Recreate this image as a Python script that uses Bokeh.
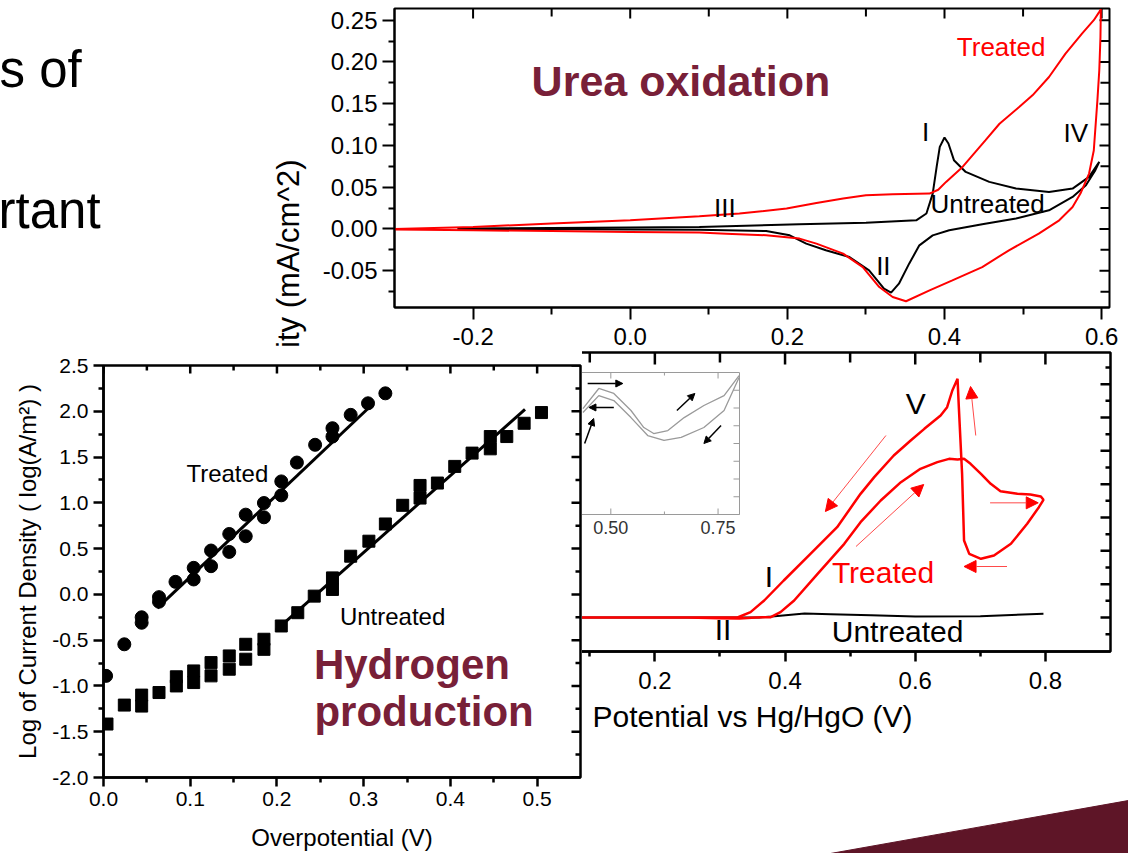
import math
from bokeh.plotting import figure
from bokeh.models import (LinearAxis, FixedTicker, Range1d, Arrow, NormalHead,
                          ColumnDataSource, PrintfTickFormatter)
from bokeh.embed import file_html
from bokeh.resources import INLINE
from bokeh.core.properties import value

FONT = "Liberation Sans"
MAROON = "#782038"
RED = "#ff0000"

# ---------------- data: top chart (urea oxidation CV) ----------------
cv_treated_x = [-0.300, -0.200, -0.100, 0.000, 0.088, 0.139, 0.199, 0.237, 0.271, 0.300,
                0.334, 0.381, 0.392, 0.402, 0.423, 0.452, 0.470, 0.495, 0.512, 0.533,
                0.554, 0.575, 0.590, 0.597, 0.599,
                0.5985, 0.597, 0.5946, 0.590, 0.584, 0.573, 0.563, 0.546, 0.520, 0.482,
                0.448, 0.410, 0.381, 0.351, 0.334, 0.317, 0.296, 0.271, 0.237, 0.2155,
                0.173, 0.122, 0.088, 0.000, -0.100, -0.200, -0.300]
cv_treated_y = [0.000, 0.0025, 0.0065, 0.0104, 0.0153, 0.0185, 0.0245, 0.0312, 0.0364, 0.0404,
                0.0416, 0.0424, 0.047, 0.0564, 0.0743, 0.106, 0.126, 0.146, 0.160, 0.182,
                0.210, 0.234, 0.250, 0.260, 0.263,
                0.230, 0.190, 0.154, 0.094, 0.0664, 0.0424, 0.0264, 0.0104, -0.0056, -0.0255,
                -0.0456, -0.0615, -0.0735, -0.0865, -0.0815, -0.0695, -0.0456, -0.0295, -0.0175, -0.0115,
                -0.0075, -0.0056, -0.0043, -0.0036, -0.0025, -0.0015, -0.0007]
cv_untreated_x = [-0.220, -0.100, 0.000, 0.088, 0.215, 0.300, 0.364, 0.377, 0.385, 0.390,
                  0.394, 0.400, 0.405, 0.412, 0.427, 0.457, 0.491, 0.533, 0.563, 0.584, 0.597,
                  0.592, 0.580, 0.563, 0.533, 0.491, 0.448, 0.406, 0.385, 0.368, 0.355,
                  0.342, 0.332, 0.323, 0.304, 0.279, 0.249, 0.224, 0.203, 0.173, 0.088,
                  0.000, -0.220]
cv_untreated_y = [0.0005, 0.0012, 0.0018, 0.0024, 0.0056, 0.0075, 0.0104, 0.0185, 0.0424, 0.0743,
                  0.0983, 0.1096, 0.1024, 0.0824, 0.0683, 0.0564, 0.0484, 0.0444, 0.0484, 0.0624, 0.0803,
                  0.0704, 0.0524, 0.0384, 0.0224, 0.0125, 0.0056, -0.0016, -0.0076, -0.0196, -0.0415,
                  -0.0655, -0.0763, -0.0715, -0.0495, -0.0336, -0.0255, -0.0175, -0.0076, -0.0024, -0.0008,
                  -0.0005, 0.0000]
t_xticks = [-0.2, 0.0, 0.2, 0.4, 0.6]
t_xminor = [-0.1, 0.1, 0.3, 0.5]
t_yticks = [-0.05, 0.0, 0.05, 0.10, 0.15, 0.20, 0.25]
t_yminor = [-0.075, -0.025, 0.025, 0.075, 0.125, 0.175, 0.225]

# ---------------- data: bottom-right chart (potential vs Hg/HgO) ----------------
lsv_treated_x = [0.000, 0.250, 0.300, 0.330, 0.355, 0.378, 0.393, 0.414, 0.450, 0.491,
                 0.516, 0.547, 0.578, 0.608, 0.634, 0.652, 0.665, 0.675, 0.685, 0.701,
                 0.716, 0.731, 0.757, 0.777, 0.793, 0.797, 0.790, 0.772, 0.747, 0.721,
                 0.701, 0.683, 0.675, 0.672, 0.667, 0.665, 0.657, 0.649, 0.639, 0.614,
                 0.593, 0.567, 0.537, 0.516, 0.480, 0.439, 0.398, 0.368, 0.347, 0.327, 0.000]
lsv_treated_y = [0, 0, -2, -3, 0, 1, 16, 51, 131, 221,
                 286, 351, 406, 446, 466, 476, 474, 476, 461, 431,
                 401, 379, 371, 369, 363, 353, 331, 281, 221, 186,
                 176, 191, 231, 431, 631, 716, 681, 631, 606, 566,
                 531, 486, 421, 371, 271, 191, 111, 51, 16, 0, 0]
lsv_untreated_x = [0.000, 0.360, 0.380, 0.430, 0.470, 0.532, 0.600, 0.700, 0.797]
lsv_untreated_y = [0, 0, 3, 12, 10, 7, 3, 4, 11]
br_arrow_x0 = [0.555, 0.509, 0.693, 0.715, 0.741]
br_arrow_y0 = [546, 213, 546, 344, 153]
br_arrow_x1 = [0.462, 0.613, 0.685, 0.789, 0.675]
br_arrow_y1 = [318, 399, 693, 344, 153]
br_xticks = [-0.2, 0.0, 0.2, 0.4, 0.6, 0.8]
br_xminor = [-0.1, 0.1, 0.3, 0.5, 0.7]
br_yticks = [0, 100, 200, 300, 400, 500, 600, 700]
br_yminor = [-50, 50, 150, 250, 350, 450, 550, 650, 750]

# inset
inset_fwd_x = [0.435, 0.472, 0.507, 0.547, 0.577, 0.600, 0.633, 0.671, 0.717, 0.764, 0.799]
inset_fwd_y = [5.97, 7.10, 6.82, 5.86, 4.90, 4.56, 4.73, 5.46, 6.14, 6.70, 7.83]
inset_rev_x = [0.435, 0.472, 0.507, 0.547, 0.586, 0.624, 0.664, 0.717, 0.764, 0.799]
inset_rev_y = [5.75, 6.70, 6.42, 5.46, 4.45, 4.17, 4.34, 4.90, 5.86, 7.72]
inset_arrow_x0 = [0.446, 0.507, 0.439, 0.654, 0.757]
inset_arrow_y0 = [7.38, 6.03, 4.00, 5.86, 5.01]
inset_arrow_x1 = [0.528, 0.449, 0.460, 0.696, 0.717]
inset_arrow_y1 = [7.38, 6.03, 5.41, 6.82, 4.00]
inset_xticks = [0.50, 0.75]
inset_xminor = [0.625]
inset_yticks = [1, 2, 3, 4, 5, 6, 7]

# ---------------- data: Tafel (hydrogen production) ----------------
tafel_treated_eta = [0.003, 0.024, 0.044, 0.044, 0.064, 0.064, 0.083, 0.104, 0.104, 0.124,
                     0.124, 0.145, 0.145, 0.164, 0.164, 0.185, 0.185, 0.205, 0.205, 0.223,
                     0.244, 0.264, 0.264, 0.285, 0.305, 0.325]
tafel_treated_logj = [-0.89, -0.545, -0.25, -0.31, -0.03, -0.08, 0.137, 0.163, 0.29, 0.308,
                      0.479, 0.464, 0.66, 0.635, 0.871, 0.842, 0.998, 1.082, 1.234, 1.44,
                      1.634, 1.724, 1.815, 1.961, 2.087, 2.196]
tafel_untreated_eta = [0.004, 0.024, 0.044, 0.044, 0.064, 0.084, 0.084, 0.104, 0.104, 0.124,
                       0.124, 0.145, 0.145, 0.164, 0.164, 0.185, 0.185, 0.205, 0.224, 0.243,
                       0.264, 0.264, 0.285, 0.306, 0.325, 0.345, 0.365, 0.365, 0.385, 0.405,
                       0.425, 0.446, 0.446, 0.465, 0.485, 0.505]
tafel_untreated_logj = [-1.416, -1.209, -1.10, -1.22, -1.072, -0.90, -1.0, -0.836, -0.963, -0.745,
                        -0.89, -0.672, -0.817, -0.545, -0.708, -0.49, -0.60, -0.345, -0.2, -0.019,
                        0.054, 0.18, 0.417, 0.581, 0.769, 0.973, 1.052, 1.19, 1.216, 1.398,
                        1.543, 1.59, 1.724, 1.724, 1.869, 1.986]
fit_treated_eta = [0.062, 0.305]
fit_treated_logj = [-0.15, 2.03]
fit_untreated_eta = [0.199, 0.486]
fit_untreated_logj = [-0.39, 2.02]
bl_xticks = [0.0, 0.1, 0.2, 0.3, 0.4, 0.5]
bl_xminor = [0.05, 0.15, 0.25, 0.35, 0.45]
bl_yticks = [-2.0, -1.5, -1.0, -0.5, 0.0, 0.5, 1.0, 1.5, 2.0, 2.5]
bl_yminor = [-1.75, -1.25, -0.75, -0.25, 0.25, 0.75, 1.25, 1.75, 2.25]

# slide decoration
slide_text = ["s of", "rtant"]
slide_text_x = [-1, -2]
slide_text_y = [69, 210]
wedge_x = [830, 1128, 1128]
wedge_y = [853, 800, 853]


def make_fig(left, top, width, height, z, xr, yr, mb, outline=None, outline_w=2):
    p = figure(width=width, height=height, x_range=xr, y_range=yr,
               output_backend="svg", toolbar_location=None,
               x_axis_location=None, y_axis_location=None,
               min_border_left=mb[0], min_border_right=mb[1],
               min_border_top=mb[2], min_border_bottom=mb[3])
    p.grid.visible = False
    p.outline_line_color = outline
    p.outline_line_width = outline_w
    p.background_fill_color = "white"
    p.border_fill_color = "white"
    p.styles = {"position": "absolute", "left": f"{left}px", "top": f"{top}px",
                "z-index": str(z), "margin": "0px"}
    return p


def add_axis(p, side, major, minor, tout, min_out, fmt, size, standoff, lw=2,
             color="black", label_color="black", label=None, label_size="24px", label_standoff=5):
    ax = LinearAxis(ticker=FixedTicker(ticks=major, minor_ticks=minor))
    ax.major_tick_in = 0
    ax.major_tick_out = tout
    ax.minor_tick_in = 0
    ax.minor_tick_out = min_out
    ax.axis_line_width = lw
    ax.axis_line_color = color
    ax.major_tick_line_width = lw
    ax.minor_tick_line_width = lw
    ax.major_tick_line_color = color
    ax.minor_tick_line_color = color
    ax.formatter = PrintfTickFormatter(format=fmt)
    ax.major_label_text_font = FONT
    ax.major_label_text_font_size = size
    ax.major_label_text_color = label_color
    ax.major_label_standoff = standoff
    if label:
        ax.axis_label = label
        ax.axis_label_text_font = FONT
        ax.axis_label_text_font_style = "normal"
        ax.axis_label_text_font_size = label_size
        ax.axis_label_text_color = "black"
        ax.axis_label_standoff = label_standoff
    p.add_layout(ax, side)
    return ax


def inner_ticks(p, side, vals, length, lw, color="black"):
    # dash markers centred on the frame edge; the outer half is clipped by the frame
    if side == "above":
        xs, ys, ang = vals, [p.y_range.end] * len(vals), math.pi / 2
    elif side == "below":
        xs, ys, ang = vals, [p.y_range.start] * len(vals), math.pi / 2
    else:  # right
        xs, ys, ang = [p.x_range.end] * len(vals), vals, 0.0
    p.scatter(xs, ys, marker="dash", size=2 * length, angle=ang,
              line_color=color, line_width=lw)


def add_text(p, x, y, txt, size, color="black", bold=False, angle=0.0, align="left"):
    p.text(x=x, y=y, text=txt, text_font=value(FONT), text_font_size=size,
           text_color=color, text_font_style="bold" if bold else "normal",
           text_align=align, text_baseline="middle", angle=angle)


# ---------------- background slide ----------------
bg = make_fig(0, 0, 1128, 853, 1, Range1d(0, 1128), Range1d(853, 0), (0, 0, 0, 0))
bg.patch(x=wedge_x, y=wedge_y, fill_color="#5e1527", line_color="#5e1527")
add_text(bg, slide_text_x, slide_text_y, slide_text, "51px")
add_text(bg, [288], [159], ["Current Density (mA/cm^2)"], "31px", angle=math.pi / 2, align="right")

# ---------------- top chart ----------------
t = make_fig(312, 0, 816, 400, 2, Range1d(-0.3, 0.61), Range1d(-0.094, 0.264), (82, 19, 8, 93),
             outline="black", outline_w=2)
add_axis(t, "left", t_yticks, t_yminor, 12, 6, "%.2f", "24px", 5)
add_axis(t, "below", t_xticks, t_xminor, 12, 7, "%.1f", "24px", 8)
inner_ticks(t, "above", t_xticks, 10, 2)
inner_ticks(t, "above", t_xminor, 8, 2)
inner_ticks(t, "right", t_yticks, 10, 2)
inner_ticks(t, "right", t_yminor, 9, 2)
t.line(cv_untreated_x, cv_untreated_y, line_color="black", line_width=2)
t.line(cv_treated_x, cv_treated_y, line_color=RED, line_width=2)
add_text(t, [-0.1255], [0.1767], ["Urea oxidation"], "43px", color=MAROON, bold=True)
add_text(t, [0.4157], [0.2174], ["Treated"], "26px", color=RED)
add_text(t, [0.3714, 0.5515, 0.1067, 0.3823, 0.313], [0.1167, 0.1155, 0.0255, 0.0296, -0.0444],
         ["I", "IV", "III", "Untreated", "II"], "26px")

# ---------------- bottom-right chart ----------------
br = make_fig(330, 345, 798, 435, 3, Range1d(-0.2, 0.9), Range1d(-102, 795), (64, 18, 7, 129),
              outline="black", outline_w=2.5)
add_axis(br, "below", br_xticks, br_xminor, 10, 5, "%.1f", "24px", 10, lw=2.5,
         label="Potential vs Hg/HgO (V)", label_size="30px", label_standoff=8)
inner_ticks(br, "above", br_xticks, 12, 2.5)
inner_ticks(br, "above", br_xminor, 10, 2.5)
inner_ticks(br, "right", br_yticks, 10, 2.5)
inner_ticks(br, "right", br_yminor, 5, 2.5)
br.line(lsv_untreated_x, lsv_untreated_y, line_color="black", line_width=2)
br.line(lsv_treated_x, lsv_treated_y, line_color=RED, line_width=2.5)
arrow_src = ColumnDataSource(dict(x0=br_arrow_x0, y0=br_arrow_y0, x1=br_arrow_x1, y1=br_arrow_y1))
br.add_layout(Arrow(end=NormalHead(size=12, fill_color=RED, line_color=RED, line_width=1),
                    x_start="x0", y_start="y0", x_end="x1", y_end="y1", source=arrow_src,
                    line_color="#ff4a4a", line_width=1))
add_text(br, [0.5854, 0.3688, 0.292, 0.4717], [643, 123, -37, -42], ["V", "I", "II", "Untreated"], "30px")
add_text(br, [0.472], [134], ["Treated"], "30px", color=RED)

# ---------------- inset ----------------
GRAY = "#9a9a9a"
ins = make_fig(560, 366, 182, 178, 4, Range1d(0.42, 0.80), Range1d(0, 8), (16, 3, 6, 30),
               outline=GRAY, outline_w=1)
add_axis(ins, "below", inset_xticks, inset_xminor, 0, 0, "%.2f", "18px", 6,
         lw=1, color=GRAY, label_color="#333333")
inner_ticks(ins, "below", inset_xticks, 6, 1, GRAY)
inner_ticks(ins, "below", inset_xminor, 3, 1, GRAY)
inner_ticks(ins, "above", inset_xticks, 6, 1, GRAY)
inner_ticks(ins, "above", inset_xminor, 3, 1, GRAY)
inner_ticks(ins, "right", inset_yticks, 6, 1, GRAY)
ins.line(inset_fwd_x, inset_fwd_y, line_color=GRAY, line_width=1.3)
ins.line(inset_rev_x, inset_rev_y, line_color=GRAY, line_width=1.3)
ins_src = ColumnDataSource(dict(x0=inset_arrow_x0, y0=inset_arrow_y0, x1=inset_arrow_x1, y1=inset_arrow_y1))
ins.add_layout(Arrow(end=NormalHead(size=7, fill_color="black", line_color="black", line_width=1),
                     x_start="x0", y_start="y0", x_end="x1", y_end="y1", source=ins_src,
                     line_color="black", line_width=1.5))

# ---------------- bottom-left Tafel chart ----------------
bl = make_fig(0, 345, 582, 508, 5, Range1d(0.0, 0.55), Range1d(-2.0, 2.5), (103, 2, 20, 76),
              outline="black", outline_w=2.5)
add_axis(bl, "left", bl_yticks, bl_yminor, 10, 5, "%.1f", "21px", 5, lw=2.5,
         label="Log of Current Density ( log(A/m\u00b2) )", label_size="24px", label_standoff=8)
add_axis(bl, "below", bl_xticks, bl_xminor, 9, 5, "%.1f", "21px", 5, lw=2.5,
         label="Overpotential (V)", label_size="24px", label_standoff=15)
inner_ticks(bl, "above", bl_xticks, 8, 2.5)
inner_ticks(bl, "above", bl_xminor, 5, 2.5)
inner_ticks(bl, "right", bl_yticks, 9, 2.5)
inner_ticks(bl, "right", bl_yminor, 5, 2.5)
bl.line(fit_treated_eta, fit_treated_logj, line_color="black", line_width=3)
bl.line(fit_untreated_eta, fit_untreated_logj, line_color="black", line_width=3)
bl.scatter(tafel_treated_eta, tafel_treated_logj, marker="circle", size=13, color="black")
bl.scatter(tafel_untreated_eta, tafel_untreated_logj, marker="square", size=12, color="black")
add_text(bl, [0.0956, 0.2726], [1.323, -0.242], ["Treated", "Untreated"], "24px")
add_text(bl, [0.2426, 0.2432], [-0.766, -1.283], ["Hydrogen", "production"], "42px", color=MAROON, bold=True)

open("out.html", "w").write(file_html([bg, t, br, ins, bl], INLINE))
